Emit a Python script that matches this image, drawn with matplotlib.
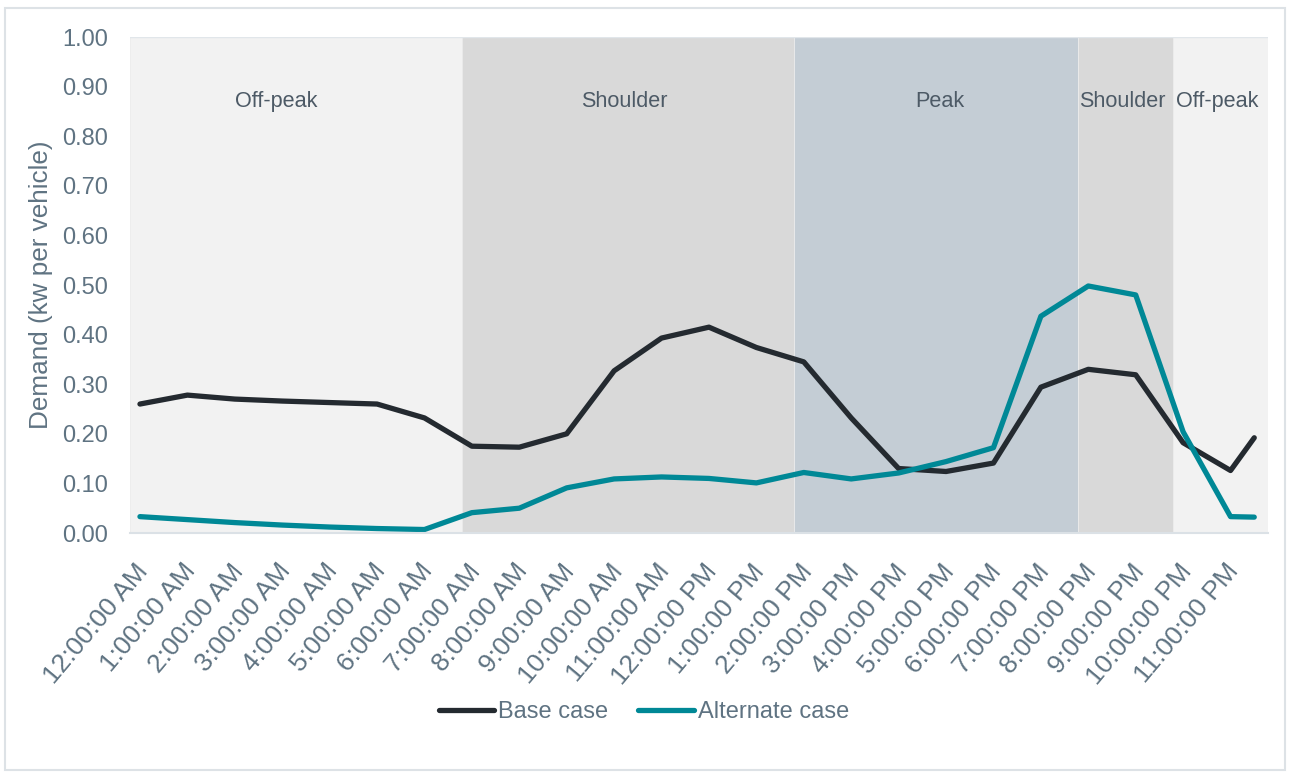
import matplotlib
matplotlib.use("Agg")
import matplotlib.pyplot as plt
from matplotlib.patches import Rectangle

# ---------------- data ----------------
hour_labels = ["12:00:00 AM", "1:00:00 AM", "2:00:00 AM", "3:00:00 AM", "4:00:00 AM",
               "5:00:00 AM", "6:00:00 AM", "7:00:00 AM", "8:00:00 AM", "9:00:00 AM",
               "10:00:00 AM", "11:00:00 AM", "12:00:00 PM", "1:00:00 PM", "2:00:00 PM",
               "3:00:00 PM", "4:00:00 PM", "5:00:00 PM", "6:00:00 PM", "7:00:00 PM",
               "8:00:00 PM", "9:00:00 PM", "10:00:00 PM", "11:00:00 PM"]
point_hours = [0, 1, 2, 3, 4, 5, 6, 7, 8, 9, 10, 11, 12, 13, 14, 15, 16, 17, 18, 19,
               20, 21, 22, 23, 23.5]
base_case = [0.260, 0.278, 0.270, 0.266, 0.263, 0.260, 0.232, 0.175, 0.173, 0.200,
             0.327, 0.393, 0.415, 0.374, 0.345, 0.232, 0.130, 0.124, 0.141, 0.294,
             0.330, 0.319, 0.182, 0.126, 0.192]
alternate_case = [0.033, 0.027, 0.021, 0.016, 0.012, 0.009, 0.007, 0.041, 0.050, 0.091,
                  0.109, 0.113, 0.110, 0.101, 0.122, 0.109, 0.121, 0.144, 0.172, 0.437,
                  0.498, 0.480, 0.204, 0.033, 0.032]

period_names = ["Off-peak", "Shoulder", "Peak", "Shoulder", "Off-peak"]
period_start = [0, 7, 14, 20, 22]
period_end = [7, 14, 20, 22, 24]
period_label_x = [3.08, 10.42, 17.08, 20.92, 22.94]

# ---------------- style ----------------
band_colors = ["#f2f2f2", "#d9d9d9", "#c4cdd5", "#d9d9d9", "#f2f2f2"]
base_color = "#242a30"
alt_color = "#008896"
tick_color = "#5f7382"
label_color = "#4d5a66"
point_offset = 0.21
tick_offset = 0.10

plt.rcParams['font.family'] = ['Liberation Sans', 'DejaVu Sans']

fig = plt.figure(figsize=(12.9, 7.74), dpi=100)
# outer frame
fig.patches.append(Rectangle((5 / 1290, 4 / 774), 1280 / 1290, 762 / 774,
                             transform=fig.transFigure, fill=False,
                             edgecolor="#dde2e6", linewidth=1.5))

ax = fig.add_axes([130 / 1290, 1 - 533 / 774, 1138 / 1290, 496 / 774])

for s, e, c in zip(period_start, period_end, band_colors):
    ax.axvspan(s, e, ymin=0, ymax=1, facecolor=c, edgecolor="#ebebeb",
               linewidth=0.6, zorder=1)

for name, lx in zip(period_names, period_label_x):
    ax.text(lx, 0.87, name, ha="center", va="center", fontsize=15.6,
            color=label_color, zorder=3)

xs = [h + point_offset for h in point_hours]
ax.plot(xs, base_case, color=base_color, linewidth=3.8, solid_capstyle="round",
        solid_joinstyle="round", label="Base case", zorder=4)
ax.plot(xs, alternate_case, color=alt_color, linewidth=3.8, solid_capstyle="round",
        solid_joinstyle="round", label="Alternate case", zorder=5)

ax.set_xlim(0, 24)
ax.set_ylim(0, 1.0)
ax.set_yticks([i / 10 for i in range(11)])
ax.set_yticklabels([f"{i / 10:.2f}" for i in range(11)])
ax.set_xticks([i + tick_offset for i in range(len(hour_labels))])
ax.set_xticklabels(hour_labels, rotation=50, ha="right", va="top",
                   rotation_mode="anchor")
ax.tick_params(axis="both", length=0, labelsize=17, colors=tick_color)
ax.tick_params(axis="x", labelsize=19, pad=19)
ax.tick_params(axis="y", pad=16)

for sp in ["top", "right", "left"]:
    ax.spines[sp].set_visible(False)
ax.spines["bottom"].set_color("#dbe1e6")
ax.spines["bottom"].set_linewidth(1.5)
ax.spines["bottom"].set_zorder(6)
ax.axhline(1.0, color="#e1e6ea", linewidth=1.0, zorder=2)

ax.set_ylabel("Demand (kw per vehicle)", fontsize=18.8, color=tick_color, labelpad=6)

leg = fig.legend(loc="center", bbox_to_anchor=(0.499, 0.080), ncol=2, frameon=False,
                 fontsize=17, handlelength=2.35, handletextpad=0.15,
                 columnspacing=1.3, labelcolor=tick_color)
for line in leg.get_lines():
    line.set_linewidth(3.8)
    line.set_solid_capstyle("round")

fig.savefig("out.png", dpi=100)
